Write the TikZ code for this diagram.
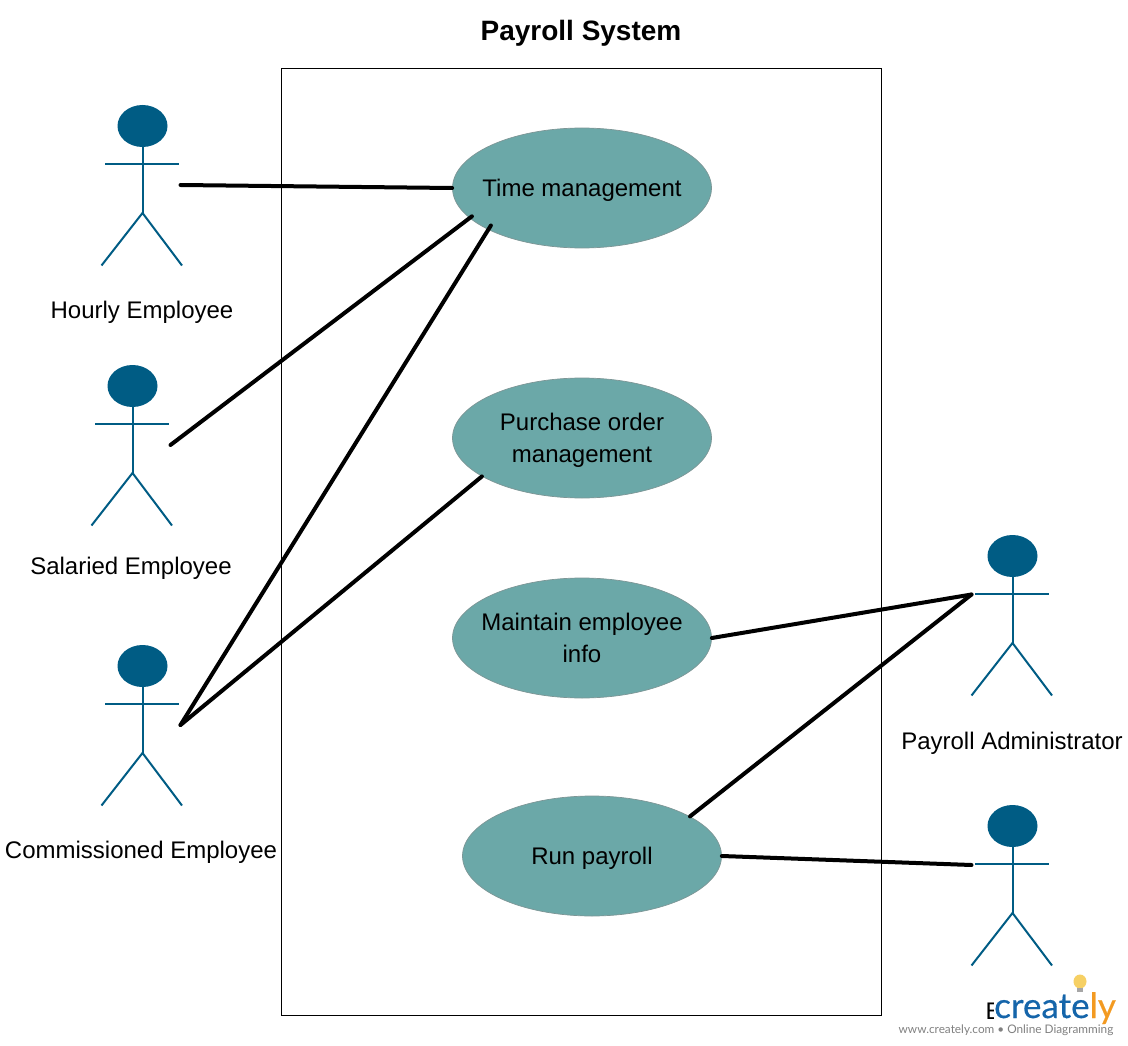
\documentclass[tikz,border=0pt]{standalone}
\usepackage{fontspec}
\setmainfont{Liberation Sans}
\newfontfamily\logofont[FakeBold=0.4]{Lato}
\newfontfamily\tagfont{Lato}
\usepackage{xcolor}
\usetikzlibrary{shapes.geometric, positioning}
\definecolor{myhead}{RGB}{0,92,132}
\definecolor{myteal}{RGB}{107,168,168}
\definecolor{myedge}{RGB}{125,150,150}
\definecolor{myblue}{RGB}{21,101,170}
\definecolor{myorange}{RGB}{243,154,33}
\definecolor{mybulb}{RGB}{246,208,100}
\definecolor{mytag}{RGB}{128,128,128}
\newcommand{\lowerline}{\rule{0pt}{22pt}}
\newcommand{\deepline}{\rule[-5.2pt]{0pt}{5.2pt}}
\tikzset{
  usecase/.style={ellipse, draw=myedge, fill=myteal, minimum width=259pt,
    minimum height=120pt, inner sep=-20pt, align=center,
    font=\fontsize{24}{32}\selectfont, line width=0.7pt},
  actorlabel/.style={font=\fontsize{24}{30}\selectfont, inner sep=0pt},
  limb/.style={draw=myhead, line width=2pt},
  link/.style={line width=4pt, color=black, line cap=round},
  actor/.pic={
    \node[ellipse, fill=myhead, minimum width=50pt, minimum height=42pt, inner sep=0pt] (-head) at (0,0) {};
    \coordinate (-hip) at (0,87);
    \coordinate (-left) at (-37.5,38);
    \coordinate (-right) at (36.5,38);
    \draw[limb] (-head) -- (-hip);
    \draw[limb] (-left) -- (-right);
    \draw[limb] (-41,139.5) -- (-hip) -- (39.5,139.5);
  }
}

\begin{document}
\begin{tikzpicture}[x=1pt, y=-1pt]
  \useasboundingbox (0,0) rectangle (1128,1046);
  \node[font=\fontsize{28}{34}\selectfont\bfseries, inner sep=0pt] (title) at (581,33) {Payroll System};
  \node[draw=black, line width=0.8pt, minimum width=600pt, minimum height=947pt, inner sep=0pt] (system) at (581,541.5) {};

  % use cases
  \node[usecase] (time) at (582,188) {\lowerline Time management};
  \node[usecase] (purchase) at (582,438) {\lowerline Purchase order\\management};
  \node[usecase] (maintain) at (582,638) {\lowerline Maintain employee\\info\deepline};
  \node[usecase] (run) at (592,856) {\lowerline Run payroll};

  % actors
  \pic (hourly) at (142.5,126) {actor};
  \pic (salaried) at (132.5,386) {actor};
  \pic (commissioned) at (142.5,666) {actor};
  \pic (admin) at (1012.5,556) {actor};
  \pic (runner) at (1012.5,826) {actor};
  \node[actorlabel] (hourlylabel) at (142,312) {Hourly Employee};
  \node[actorlabel] (salariedlabel) at (131,568) {Salaried Employee};
  \node[actorlabel] (commissionedlabel) at (141,852) {Commissioned Employee};
  \node[actorlabel] (adminlabel) at (1012,743) {Payroll Administrator};
  \node[actorlabel] (runnerlabel) at (993.5,1011) {E};

  % ends beside the actors
  \coordinate (hourlyend) at (180.5,185);
  \coordinate (salariedend) at (170.5,445);
  \coordinate (commissionedend) at (180.5,725);
  \coordinate (adminend) at (971.5,594.5);
  \coordinate (runnerend) at (971.5,865);

  \draw[link] (hourlyend) -- (time.west);
  \draw[link, shorten >=-3pt] (salariedend) -- (time.195);
  \draw[link, shorten >=-5pt] (commissionedend) -- (time.204);
  \draw[link] (commissionedend) -- (purchase.201);
  \draw[link] (maintain.east) -- (adminend);
  \draw[link] (run.22) -- (adminend);
  \draw[link] (run.east) -- (runnerend);

  % logo
  \fill[mybulb] (1080,981.5) ellipse (6.5pt and 7pt);
  \fill[mytag!70] (1077,988) rectangle (1083,994);
  \node[fill=white, inner sep=0pt, anchor=base west, font=\logofont\fontsize{35}{35}\selectfont, text=myblue] (logo) at (994,1018) {creat\textcolor{myblue}{e}\textcolor{myorange}{ly}};
  \node[font=\tagfont\fontsize{11.8}{14}\selectfont, text=mytag, inner sep=0pt] (tagline) at (1006,1030.5) {www.creately.com • Online Diagramming};
\end{tikzpicture}
\end{document}
